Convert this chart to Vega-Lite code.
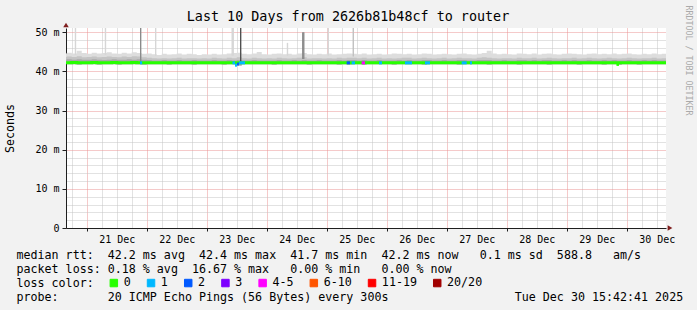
{
  "$schema": "https://vega.github.io/schema/vega-lite/v6.json",
  "width": 600,
  "height": 200,
  "autosize": {"type": "none"},
  "padding": {"left": 66, "top": 28, "right": 31, "bottom": 82},
  "background": "#f2f2f2",
  "title": {"text": "Last 10 Days from 2626b81b48cf to router", "font": "DejaVu Sans Mono", "fontSize": 13.4, "fontWeight": "normal", "color": "#000000", "anchor": "middle", "frame": "group", "dx": -18, "dy": 22, "offset": 4},
  "config": {
    "font": "DejaVu Sans Mono",
    "view": {"fill": "#ffffff", "stroke": null},
    "axis": {"titleFontWeight": "normal", "labelFont": "DejaVu Sans Mono", "titleFont": "DejaVu Sans Mono"}
  },
  "datasets": {
    "smoke": [
      {"hour":14,"lo":41.9,"md":42.2,"q3":43.0,"q2":43.7,"hi":44.6},
      {"hour":16,"lo":41.9,"md":42.2,"q3":43.1,"q2":43.8,"hi":44.8},
      {"hour":18,"lo":41.9,"md":42.3,"q3":43.0,"q2":43.7,"hi":44.6},
      {"hour":20,"lo":41.8,"md":42.2,"q3":43.1,"q2":43.9,"hi":45.3},
      {"hour":22,"lo":41.9,"md":42.2,"q3":43.0,"q2":43.6,"hi":44.7},
      {"hour":24,"lo":41.9,"md":42.2,"q3":43.0,"q2":43.7,"hi":44.5},
      {"hour":26,"lo":41.9,"md":42.3,"q3":43.1,"q2":43.8,"hi":44.8},
      {"hour":28,"lo":41.8,"md":42.2,"q3":43.0,"q2":43.6,"hi":44.6},
      {"hour":30,"lo":41.9,"md":42.2,"q3":42.9,"q2":43.7,"hi":44.7},
      {"hour":32,"lo":41.9,"md":42.2,"q3":43.0,"q2":43.8,"hi":44.9},
      {"hour":34,"lo":41.9,"md":42.3,"q3":43.1,"q2":43.7,"hi":44.6},
      {"hour":36,"lo":41.8,"md":42.2,"q3":43.0,"q2":43.6,"hi":44.5},
      {"hour":38,"lo":41.9,"md":42.2,"q3":43.0,"q2":43.8,"hi":44.8},
      {"hour":40,"lo":41.9,"md":42.2,"q3":43.1,"q2":43.7,"hi":44.6},
      {"hour":42,"lo":41.9,"md":42.3,"q3":43.0,"q2":43.9,"hi":44.9},
      {"hour":44,"lo":41.9,"md":42.2,"q3":43.1,"q2":43.8,"hi":44.7},
      {"hour":46,"lo":41.8,"md":42.2,"q3":43.0,"q2":43.6,"hi":44.5},
      {"hour":48,"lo":41.9,"md":42.2,"q3":42.9,"q2":43.5,"hi":44.6},
      {"hour":50,"lo":41.9,"md":42.2,"q3":42.8,"q2":43.4,"hi":44.4},
      {"hour":52,"lo":41.9,"md":42.2,"q3":42.8,"q2":43.3,"hi":44.2},
      {"hour":54,"lo":41.9,"md":42.2,"q3":42.9,"q2":43.4,"hi":44.5},
      {"hour":56,"lo":41.8,"md":42.2,"q3":42.8,"q2":43.3,"hi":44.3},
      {"hour":58,"lo":41.9,"md":42.2,"q3":42.8,"q2":43.4,"hi":44.4},
      {"hour":60,"lo":41.9,"md":42.2,"q3":42.9,"q2":43.5,"hi":44.6},
      {"hour":62,"lo":41.9,"md":42.2,"q3":42.8,"q2":43.3,"hi":44.3},
      {"hour":64,"lo":41.9,"md":42.2,"q3":42.8,"q2":43.4,"hi":44.5},
      {"hour":66,"lo":41.8,"md":42.2,"q3":42.9,"q2":43.4,"hi":44.4},
      {"hour":68,"lo":41.9,"md":42.2,"q3":42.8,"q2":43.3,"hi":44.2},
      {"hour":70,"lo":41.9,"md":42.2,"q3":42.8,"q2":43.4,"hi":44.4},
      {"hour":72,"lo":41.9,"md":42.2,"q3":42.8,"q2":43.3,"hi":44.3},
      {"hour":74,"lo":41.9,"md":42.2,"q3":42.9,"q2":43.5,"hi":44.5},
      {"hour":76,"lo":41.9,"md":42.2,"q3":42.8,"q2":43.4,"hi":44.3},
      {"hour":78,"lo":41.8,"md":42.2,"q3":42.8,"q2":43.3,"hi":44.4},
      {"hour":80,"lo":41.9,"md":42.2,"q3":42.9,"q2":43.5,"hi":44.6},
      {"hour":82,"lo":41.9,"md":42.2,"q3":42.8,"q2":43.4,"hi":44.7},
      {"hour":84,"lo":41.5,"md":42.2,"q3":42.9,"q2":43.6,"hi":44.8},
      {"hour":86,"lo":41.9,"md":42.2,"q3":42.8,"q2":43.4,"hi":44.5},
      {"hour":88,"lo":41.9,"md":42.2,"q3":42.8,"q2":43.3,"hi":44.4},
      {"hour":90,"lo":41.9,"md":42.2,"q3":42.9,"q2":43.5,"hi":44.6},
      {"hour":92,"lo":41.9,"md":42.2,"q3":42.8,"q2":43.4,"hi":45.0},
      {"hour":94,"lo":41.9,"md":42.2,"q3":42.8,"q2":43.3,"hi":44.4},
      {"hour":96,"lo":41.9,"md":42.2,"q3":42.8,"q2":43.4,"hi":44.3},
      {"hour":98,"lo":41.8,"md":42.2,"q3":42.8,"q2":43.3,"hi":44.5},
      {"hour":100,"lo":41.9,"md":42.2,"q3":42.9,"q2":43.5,"hi":44.6},
      {"hour":102,"lo":41.9,"md":42.2,"q3":42.8,"q2":43.4,"hi":44.4},
      {"hour":104,"lo":41.9,"md":42.2,"q3":42.8,"q2":43.3,"hi":44.5},
      {"hour":106,"lo":41.9,"md":42.2,"q3":42.9,"q2":43.4,"hi":44.3},
      {"hour":108,"lo":41.9,"md":42.2,"q3":42.8,"q2":43.5,"hi":44.6},
      {"hour":110,"lo":41.9,"md":42.2,"q3":42.9,"q2":43.6,"hi":44.7},
      {"hour":112,"lo":41.8,"md":42.2,"q3":42.8,"q2":43.3,"hi":44.4},
      {"hour":114,"lo":41.9,"md":42.2,"q3":42.8,"q2":43.4,"hi":44.3},
      {"hour":116,"lo":41.9,"md":42.2,"q3":42.9,"q2":43.4,"hi":44.5},
      {"hour":118,"lo":41.9,"md":42.2,"q3":42.8,"q2":43.3,"hi":44.4},
      {"hour":120,"lo":41.9,"md":42.2,"q3":42.8,"q2":43.4,"hi":44.6},
      {"hour":122,"lo":41.9,"md":42.2,"q3":42.8,"q2":43.3,"hi":44.3},
      {"hour":124,"lo":41.8,"md":42.2,"q3":42.9,"q2":43.5,"hi":44.4},
      {"hour":126,"lo":41.9,"md":42.2,"q3":42.8,"q2":43.4,"hi":44.5},
      {"hour":128,"lo":41.8,"md":42.2,"q3":42.9,"q2":43.5,"hi":44.6},
      {"hour":130,"lo":41.9,"md":42.2,"q3":42.9,"q2":43.5,"hi":44.5},
      {"hour":132,"lo":41.9,"md":42.2,"q3":42.8,"q2":43.4,"hi":44.4},
      {"hour":134,"lo":41.8,"md":42.2,"q3":42.9,"q2":43.5,"hi":44.6},
      {"hour":136,"lo":41.9,"md":42.2,"q3":42.8,"q2":43.3,"hi":44.3},
      {"hour":138,"lo":41.9,"md":42.2,"q3":42.8,"q2":43.4,"hi":44.4},
      {"hour":140,"lo":41.9,"md":42.2,"q3":42.9,"q2":43.5,"hi":44.5},
      {"hour":142,"lo":41.9,"md":42.2,"q3":42.8,"q2":43.3,"hi":44.3},
      {"hour":144,"lo":41.9,"md":42.2,"q3":42.8,"q2":43.4,"hi":44.4},
      {"hour":146,"lo":41.8,"md":42.2,"q3":42.8,"q2":43.3,"hi":44.6},
      {"hour":148,"lo":41.9,"md":42.2,"q3":42.9,"q2":43.4,"hi":44.5},
      {"hour":150,"lo":41.9,"md":42.2,"q3":42.8,"q2":43.5,"hi":44.4},
      {"hour":152,"lo":41.9,"md":42.2,"q3":42.9,"q2":43.5,"hi":44.5},
      {"hour":154,"lo":41.9,"md":42.2,"q3":42.8,"q2":43.3,"hi":44.3},
      {"hour":156,"lo":41.9,"md":42.2,"q3":42.8,"q2":43.4,"hi":44.4},
      {"hour":158,"lo":41.8,"md":42.2,"q3":42.9,"q2":43.5,"hi":44.6},
      {"hour":160,"lo":41.9,"md":42.2,"q3":42.9,"q2":43.4,"hi":44.5},
      {"hour":162,"lo":41.9,"md":42.2,"q3":42.8,"q2":43.3,"hi":44.3},
      {"hour":164,"lo":41.9,"md":42.2,"q3":42.8,"q2":43.4,"hi":44.4},
      {"hour":166,"lo":41.9,"md":42.2,"q3":42.9,"q2":43.5,"hi":44.5},
      {"hour":168,"lo":41.9,"md":42.2,"q3":42.8,"q2":43.3,"hi":44.4},
      {"hour":170,"lo":41.9,"md":42.2,"q3":42.8,"q2":43.4,"hi":44.3},
      {"hour":172,"lo":41.8,"md":42.2,"q3":42.9,"q2":43.5,"hi":44.5},
      {"hour":174,"lo":41.9,"md":42.2,"q3":42.9,"q2":43.4,"hi":44.6},
      {"hour":176,"lo":41.9,"md":42.2,"q3":42.8,"q2":43.4,"hi":44.4},
      {"hour":178,"lo":41.9,"md":42.2,"q3":42.8,"q2":43.3,"hi":44.3},
      {"hour":180,"lo":41.9,"md":42.2,"q3":42.9,"q2":43.5,"hi":44.5},
      {"hour":182,"lo":41.9,"md":42.2,"q3":42.9,"q2":43.6,"hi":44.7},
      {"hour":184,"lo":41.8,"md":42.2,"q3":42.9,"q2":43.5,"hi":45.3},
      {"hour":186,"lo":41.9,"md":42.2,"q3":42.8,"q2":43.4,"hi":44.6},
      {"hour":188,"lo":41.9,"md":42.2,"q3":42.8,"q2":43.3,"hi":44.4},
      {"hour":190,"lo":41.9,"md":42.2,"q3":42.9,"q2":43.4,"hi":44.5},
      {"hour":192,"lo":41.9,"md":42.2,"q3":42.8,"q2":43.4,"hi":44.4},
      {"hour":194,"lo":41.9,"md":42.2,"q3":42.8,"q2":43.3,"hi":44.3},
      {"hour":196,"lo":41.8,"md":42.2,"q3":42.9,"q2":43.5,"hi":44.6},
      {"hour":198,"lo":41.9,"md":42.2,"q3":42.9,"q2":43.4,"hi":44.5},
      {"hour":200,"lo":41.9,"md":42.2,"q3":42.8,"q2":43.4,"hi":44.4},
      {"hour":202,"lo":41.9,"md":42.2,"q3":42.9,"q2":43.5,"hi":44.6},
      {"hour":204,"lo":41.9,"md":42.2,"q3":42.8,"q2":43.3,"hi":44.3},
      {"hour":206,"lo":41.9,"md":42.2,"q3":42.9,"q2":43.4,"hi":44.5},
      {"hour":208,"lo":41.8,"md":42.2,"q3":42.9,"q2":43.5,"hi":44.6},
      {"hour":210,"lo":41.9,"md":42.2,"q3":42.8,"q2":43.4,"hi":44.4},
      {"hour":212,"lo":41.9,"md":42.2,"q3":42.8,"q2":43.3,"hi":44.3},
      {"hour":214,"lo":41.9,"md":42.2,"q3":42.9,"q2":43.4,"hi":44.5},
      {"hour":216,"lo":41.9,"md":42.2,"q3":42.8,"q2":43.4,"hi":44.6},
      {"hour":218,"lo":41.9,"md":42.2,"q3":42.9,"q2":43.5,"hi":44.5},
      {"hour":220,"lo":41.8,"md":42.2,"q3":42.8,"q2":43.3,"hi":44.4},
      {"hour":222,"lo":41.9,"md":42.2,"q3":42.8,"q2":43.4,"hi":44.3},
      {"hour":224,"lo":41.9,"md":42.2,"q3":42.9,"q2":43.5,"hi":44.5},
      {"hour":226,"lo":41.9,"md":42.2,"q3":42.8,"q2":43.4,"hi":44.6},
      {"hour":228,"lo":41.9,"md":42.2,"q3":42.8,"q2":43.3,"hi":44.4},
      {"hour":230,"lo":41.8,"md":42.2,"q3":42.9,"q2":43.4,"hi":44.5},
      {"hour":232,"lo":41.9,"md":42.2,"q3":42.8,"q2":43.5,"hi":44.4},
      {"hour":234,"lo":41.9,"md":42.2,"q3":42.9,"q2":43.4,"hi":44.6},
      {"hour":236,"lo":41.7,"md":42.2,"q3":42.8,"q2":43.3,"hi":44.4},
      {"hour":238,"lo":41.9,"md":42.2,"q3":42.8,"q2":43.4,"hi":44.5},
      {"hour":240,"lo":41.9,"md":42.2,"q3":42.9,"q2":43.5,"hi":44.6},
      {"hour":242,"lo":41.9,"md":42.2,"q3":42.8,"q2":43.4,"hi":44.4},
      {"hour":244,"lo":41.8,"md":42.2,"q3":42.8,"q2":43.3,"hi":44.3},
      {"hour":246,"lo":41.9,"md":42.2,"q3":42.9,"q2":43.4,"hi":44.5},
      {"hour":248,"lo":41.9,"md":42.2,"q3":42.8,"q2":43.4,"hi":44.4},
      {"hour":250,"lo":41.9,"md":42.2,"q3":42.9,"q2":43.5,"hi":44.6},
      {"hour":252,"lo":41.9,"md":42.2,"q3":42.8,"q2":43.3,"hi":44.4},
      {"hour":254,"lo":41.9,"md":42.2,"q3":42.8,"q2":43.4,"hi":44.5},
      {"hour":256,"lo":41.9,"md":42.2,"q3":42.8,"q2":43.4,"hi":44.5}
    ],
    "spikes": [
      {"hour":19.5,"base":44.2,"top":51.1,"shade":1},
      {"hour":31.5,"base":44.2,"top":51.1,"shade":1},
      {"hour":45.58,"base":42.6,"top":51.1,"shade":3},
      {"hour":51.58,"base":44.0,"top":51.1,"shade":1},
      {"hour":82.2,"base":44.0,"top":51.1,"shade":1},
      {"hour":82.6,"base":44.0,"top":51.1,"shade":1},
      {"hour":85.58,"base":42.4,"top":51.1,"shade":4},
      {"hour":104.3,"base":44.0,"top":47.3,"shade":1},
      {"hour":110.42,"base":43.2,"top":50.0,"shade":3},
      {"hour":110.82,"base":43.2,"top":50.0,"shade":3},
      {"hour":120.62,"base":44.0,"top":51.1,"shade":1},
      {"hour":130.62,"base":43.8,"top":51.1,"shade":2}
    ],
    "loss": [
      {"hour":45.3,"hour2":46.18,"md":42.2,"loss":"1"},
      {"hour":82.3,"hour2":83.3,"md":42.2,"loss":"1"},
      {"hour":83.3,"hour2":84.1,"md":41.6,"loss":"1"},
      {"hour":84.1,"hour2":84.9,"md":41.9,"loss":"2"},
      {"hour":84.9,"hour2":87.3,"md":42.2,"loss":"1"},
      {"hour":127.98,"hour2":129.3,"md":42.2,"loss":"2"},
      {"hour":129.98,"hour2":131.3,"md":42.2,"loss":"1"},
      {"hour":133.98,"hour2":135.3,"md":42.2,"loss":"4-5"},
      {"hour":140.9,"hour2":142.1,"md":42.2,"loss":"1"},
      {"hour":151.3,"hour2":154.1,"md":42.2,"loss":"1"},
      {"hour":159.3,"hour2":161.3,"md":42.2,"loss":"1"},
      {"hour":173.98,"hour2":175.98,"md":42.2,"loss":"1"},
      {"hour":177.3,"hour2":178.1,"md":42.2,"loss":"1"},
      {"hour":235.9,"hour2":236.9,"md":41.8,"loss":"0"}
    ]
  },
  "resolve": {"axis": {"x": "independent", "y": "independent"}},
  "layer": [
    {
      "data": {"name": "smoke"},
      "mark": {"type": "area", "interpolate": "step-after", "color": "#dddddd", "clip": true},
      "encoding": {
        "x": {
          "field": "hour", "type": "quantitative",
          "scale": {"nice": false, "zero": false, "domain": [15.7114, 255.7114]},
          "axis": {
            "values": [18,24,30,36,42,48,54,60,66,72,78,84,90,96,102,108,114,120,126,132,138,144,150,156,162,168,174,180,186,192,198,204,210,216,222,228,234,240,246,252],
            "grid": true,
            "gridColor": {"condition": {"test": "datum.value % 24 == 0", "value": "#eb9595"}, "value": "#c4c4c4"},
            "gridDash": [1, 1],
            "labelExpr": "datum.value % 24 == 12 ? (floor(datum.value / 24) + 20) + ' Dec' : ''",
            "labelFont": "DejaVu Sans Mono", "labelFontSize": 10, "labelColor": "#000000",
            "labelOverlap": false, "labelFlush": false, "labelPadding": 3,
            "tickSize": 3, "tickColor": "#1f1f1f",
            "tickOpacity": {"condition": {"test": "datum.value % 24 == 0", "value": 1}, "value": 0},
            "domainColor": "#1f1f1f",
            "title": [
              "median rtt:\u00a0 42.2 ms avg\u00a0 42.4 ms max\u00a0 41.7 ms min\u00a0 42.2 ms now\u00a0\u00a0 0.1 ms sd\u00a0 588.8\u00a0\u00a0 am/s",
              "packet loss: 0.18 % avg\u00a0 16.67 % max\u00a0\u00a0 0.00 % min\u00a0\u00a0 0.00 % now",
              "loss color:",
              "probe:\u00a0\u00a0\u00a0\u00a0\u00a0\u00a0 20 ICMP Echo Pings (56 Bytes) every 300s\u00a0\u00a0\u00a0\u00a0\u00a0\u00a0\u00a0\u00a0\u00a0\u00a0\u00a0\u00a0\u00a0\u00a0\u00a0\u00a0\u00a0 Tue Dec 30 15:42:41 2025"
            ],
            "titleFont": "DejaVu Sans Mono", "titleFontSize": 11.66, "titleFontWeight": "normal", "titleColor": "#000000",
            "titleAnchor": "start", "titleAlign": "left", "titleBaseline": "alphabetic",
            "titleX": -50, "titleY": 30, "titleLineHeight": 14
          }
        },
        "y": {
          "field": "hi", "type": "quantitative",
          "scale": {"domain": [0, 51.1], "nice": false, "zero": false},
          "axis": {
            "values": [0,2,4,6,8,10,12,14,16,18,20,22,24,26,28,30,32,34,36,38,40,42,44,46,48,50],
            "grid": true,
            "gridColor": {"condition": {"test": "datum.value % 10 == 0", "value": "#eb9595"}, "value": "#c4c4c4"},
            "gridDash": [1, 1],
            "labelExpr": "datum.value % 10 == 0 ? (datum.value == 0 ? '0\u00a0\u00a0' : datum.value + ' m') : ''",
            "labelFont": "DejaVu Sans Mono", "labelFontSize": 10, "labelColor": "#000000", "labelPadding": 3,
            "tickSize": 4, "tickColor": "#1f1f1f",
            "tickOpacity": {"condition": {"test": "datum.value % 10 == 0", "value": 1}, "value": 0},
            "domainColor": "#1f1f1f",
            "title": "Seconds",
            "titleFont": "DejaVu Sans Mono", "titleFontSize": 11.66, "titleFontWeight": "normal", "titleColor": "#000000",
            "titleAngle": -90, "titleAlign": "center", "titleBaseline": "middle",
            "titleX": -55.5, "titleY": 100
          }
        },
        "y2": {"field": "lo"}
      }
    },
    {
      "data": {"name": "smoke"},
      "mark": {"type": "area", "interpolate": "step-after", "color": "#c4c4c4", "clip": true},
      "encoding": {
        "x": {"field": "hour", "type": "quantitative", "axis": null},
        "y": {"field": "q2", "type": "quantitative", "axis": null},
        "y2": {"field": "lo"}
      }
    },
    {
      "data": {"name": "smoke"},
      "mark": {"type": "area", "interpolate": "step-after", "color": "#a8a8a8", "clip": true},
      "encoding": {
        "x": {"field": "hour", "type": "quantitative", "axis": null},
        "y": {"field": "q3", "type": "quantitative", "axis": null},
        "y2": {"field": "lo"}
      }
    },
    {
      "data": {"name": "spikes"},
      "mark": {"type": "rule", "strokeWidth": 1.4, "clip": true},
      "encoding": {
        "x": {"field": "hour", "type": "quantitative", "axis": null},
        "y": {
          "field": "top", "type": "quantitative",
          "axis": {
            "orient": "right", "title": "RRDTOOL / TOBI OETIKER", "labels": false, "ticks": false, "domain": false, "grid": false,
            "titleFont": "DejaVu Sans Mono", "titleFontSize": 8.3, "titleFontWeight": "normal", "titleColor": "#aaaaaa",
            "titleAngle": 90, "titleAlign": "center", "titleBaseline": "middle", "titleX": 21.5, "titleY": 32
          }
        },
        "y2": {"field": "base"},
        "stroke": {"field": "shade", "type": "ordinal", "scale": {"domain": [1, 2, 3, 4], "range": ["#d6d6d6", "#c0c0c0", "#8a8a8a", "#505050"]}, "legend": null}
      }
    },
    {
      "data": {"name": "smoke"},
      "mark": {"type": "line", "interpolate": "step-after", "color": "#26ff00", "strokeWidth": 3, "clip": true},
      "encoding": {
        "x": {"field": "hour", "type": "quantitative", "axis": null},
        "y": {"field": "md", "type": "quantitative", "axis": null}
      }
    },
    {
      "data": {"name": "loss"},
      "mark": {"type": "point", "shape": "square", "filled": true, "size": 1, "opacity": 0, "stroke": "#000000", "strokeWidth": 1, "clip": true},
      "encoding": {
        "x": {"field": "hour", "type": "quantitative", "axis": null},
        "y": {"field": "md", "type": "quantitative", "axis": null},
        "fill": {
          "field": "loss", "type": "nominal",
          "scale": {"domain": ["0", "1", "2", "3", "4-5", "6-10", "11-19", "20/20"],
                    "range": ["#26ff00", "#00b8ff", "#0059ff", "#7e00ff", "#ff00ff", "#ff5500", "#ff0000", "#a10000"]},
          "legend": {
            "orient": "none", "legendX": 42, "legendY": 249, "direction": "horizontal", "title": null,
            "labelFont": "DejaVu Sans Mono", "labelFontSize": 11.66, "labelColor": "#000000", "labelOffset": 4, "labelLimit": 0,
            "columnPadding": 14.2, "symbolType": "square", "symbolSize": 56, "symbolStrokeWidth": 1, "symbolStrokeColor": "#000000", "symbolOpacity": 1, "padding": 0
          }
        }
      }
    },
    {
      "data": {"name": "loss"},
      "mark": {"type": "rule", "strokeWidth": 3, "strokeCap": "butt", "clip": true},
      "encoding": {
        "x": {"field": "hour", "type": "quantitative", "axis": null},
        "x2": {"field": "hour2"},
        "y": {"field": "md", "type": "quantitative", "axis": null},
        "color": {
          "field": "loss", "type": "nominal",
          "scale": {"domain": ["0", "1", "2", "3", "4-5", "6-10", "11-19", "20/20"],
                    "range": ["#26ff00", "#00b8ff", "#0059ff", "#7e00ff", "#ff00ff", "#ff5500", "#ff0000", "#a10000"]},
          "legend": null
        }
      }
    },
    {
      "data": {"values": [{}]},
      "mark": {"type": "point", "shape": "triangle-up", "filled": true, "size": 30, "color": "#801f1f", "opacity": 1, "yOffset": -3},
      "encoding": {
        "x": {"datum": 15.7114, "type": "quantitative", "axis": null},
        "y": {"datum": 51.1, "type": "quantitative", "axis": null}
      }
    },
    {
      "data": {"values": [{}]},
      "mark": {"type": "point", "shape": "triangle-right", "filled": true, "size": 30, "color": "#801f1f", "opacity": 1, "xOffset": 4},
      "encoding": {
        "x": {"datum": 255.7114, "type": "quantitative", "axis": null},
        "y": {"datum": 0, "type": "quantitative", "axis": null}
      }
    }
  ]
}
